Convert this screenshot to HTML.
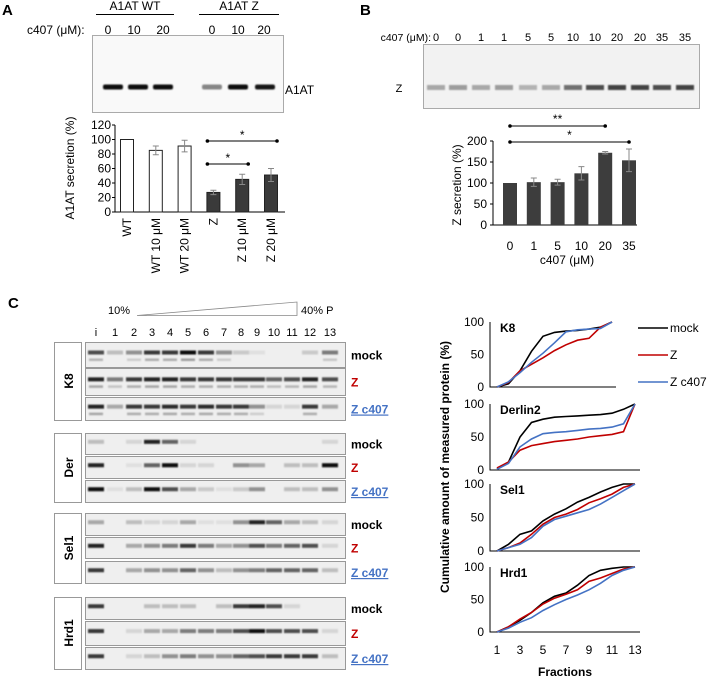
<!DOCTYPE html>
<html><head><meta charset="utf-8"><style>
html,body{margin:0;padding:0;background:#fff;}
svg{display:block;font-family:"Liberation Sans",sans-serif;}
</style></head><body>
<svg id="fig" width="708" height="678" viewBox="0 0 708 678">
<defs><filter id="bl" x="-20%" y="-100%" width="140%" height="300%"><feGaussianBlur stdDeviation="0.9"/></filter></defs>
<g>
<text x="2" y="15" font-size="15" font-weight="bold">A</text>
<text x="135" y="10" font-size="12" text-anchor="middle">A1AT WT</text>
<line x1="96" y1="14.5" x2="174" y2="14.5" stroke="#000"/>
<text x="239" y="10" font-size="12" text-anchor="middle">A1AT Z</text>
<line x1="199" y1="14.5" x2="279" y2="14.5" stroke="#000"/>
<text x="27" y="34" font-size="12">c407 (μM):</text>
<g font-size="12" text-anchor="middle">
<text x="108" y="34">0</text><text x="134" y="34">10</text><text x="163" y="34">20</text>
<text x="212" y="34">0</text><text x="238" y="34">10</text><text x="264" y="34">20</text></g>
<rect x="92.5" y="35.5" width="191" height="77" fill="#f9f9f9" stroke="#aaa"/>
<g id="agel" filter="url(#bl)"></g>
<text x="285" y="94" font-size="12">A1AT</text>
<g id="achart"></g>
</g>
<g>
<text x="360" y="15" font-size="15" font-weight="bold">B</text>
<rect x="423.5" y="44.5" width="276" height="64" fill="#f2f2f2" stroke="#aaa"/>
<text x="431" y="41" font-size="10.5" text-anchor="end">c407 (μM):</text>
<g id="blanes" font-size="11" text-anchor="middle"></g>
<g id="bgel" filter="url(#bl)"></g>
<text x="399" y="92" font-size="11" text-anchor="middle">Z</text>
<g id="bchart"></g>
</g>
<g>
<text x="8" y="308" font-size="15" font-weight="bold">C</text>
<text x="108" y="314" font-size="11">10%</text>
<polygon points="137,315.5 297,315.5 297,302" fill="#fff" stroke="#888" stroke-width="0.8"/>
<text x="301" y="314" font-size="11">40% P</text>
<g id="clanes" font-size="11" text-anchor="middle"></g>
<g id="blots"></g>
<g id="curves"></g>
</g>
</svg>
<script>
var NS="http://www.w3.org/2000/svg";
function mk(p,t,a,txt){var e=document.createElementNS(NS,t);for(var k in a)e.setAttribute(k,a[k]);if(txt!==undefined)e.textContent=txt;p.appendChild(e);return e;}
// ---- Panel A data
var aCats=["WT","WT 10 μM","WT 20 μM","Z","Z 10 μM","Z 20 μM"];
var aVals=[100,85,91,27,45,51];
var aErr=[0,6,8,3,7,9];
var aTicks=[0,20,40,60,80,100,120];
var aGelInt=[1,1,1,0.45,1,0.95];
// ---- Panel B data
var bCats=["0","1","5","10","20","35"];
var bVals=[100,102,102,123,172,154];
var bErr=[0,10,7,16,3,27];
var bTicks=[0,50,100,150,200];
var bLaneLabels=["0","0","1","1","5","5","10","10","20","20","35","35"];
var bGelInt=[0.3,0.35,0.3,0.35,0.25,0.3,0.55,0.7,0.75,0.75,0.7,0.75];
// ---- Panel C data
var fracLabels=["i","1","2","3","4","5","6","7","8","9","10","11","12","13"];
var fractions=[1,2,3,4,5,6,7,8,9,10,11,12,13];
var fracTicks=[1,3,5,7,9,11,13];
var cTicks=[0,50,100];
var k8Mock=[0,5,25,55,78,84,86,87,89,92,100];
var k8Z=[0,7,25,35,45,56,65,72,75,92,100];
var k8Zc=[0,8,22,38,52,68,85,88,89,90,100];
var derMock=[2,12,50,72,77,80,81,82,83,84,86,92,100];
var derZ=[3,12,30,37,40,43,45,47,50,52,54,58,100];
var derZc=[1,10,35,47,55,57,58,60,62,63,65,70,100];
var selMock=[0,10,25,30,45,55,63,73,80,88,95,100,100];
var selZ=[0,5,12,25,40,50,55,62,72,78,85,95,100];
var selZc=[0,5,10,20,37,47,52,57,62,70,80,90,100];
var hrdMock=[0,8,18,30,45,55,60,72,87,95,98,100,100];
var hrdZ=[0,8,20,30,43,52,58,65,78,83,90,97,100];
var hrdZc=[0,6,15,22,33,42,50,57,65,75,87,95,100];
var k8MockBand=[.7,.2,.4,.8,.8,1,.8,.4,.15,.05,0,0,.15,.5];
var k8ZBand=[.9,.5,.8,.9,.9,.8,.8,.8,.8,.8,.6,.7,.9,.7];
var k8ZcBand=[.9,.3,.8,.8,.85,.8,.85,.8,.8,.4,.1,.1,.8,.3];
var derMockBand=[.2,0,.1,.9,.6,.1,0,0,0,0,0,0,0,.1];
var derZBand=[.9,0,.05,.6,1,.1,.1,0,.4,.3,0,.2,.2,1];
var derZcBand=[1,.05,.2,1,.7,.3,.15,.05,.15,.4,0,.2,.2,.4];
var selMockBand=[.3,0,.2,.1,.1,.3,.05,.05,.4,.9,.6,.3,.2,.1];
var selZBand=[.9,0,.3,.4,.5,.8,.5,.3,.4,.7,.5,.6,.7,.1];
var selZcBand=[.8,0,.3,.4,.4,.6,.4,.2,.4,.5,.6,.6,.6,.2];
var hrdMockBand=[.8,0,0,.2,.2,.2,0,.2,.8,.9,.7,.1,0,0];
var hrdZBand=[.8,0,.1,.3,.3,.5,.5,.5,.7,1,.7,.7,.7,.1];
var hrdZcBand=[.8,0,.1,.2,.4,.5,.4,.4,.6,.7,.8,.8,.8,.2];

function shade(v){var c=Math.round(235-225*v);return "rgb("+c+","+c+","+c+")";}

// ---- Panel A gel
var ag=document.getElementById("agel");var aLaneX=[113,138,163,212,238,265];
aGelInt.forEach(function(v,i){var r=mk(ag,"rect",{x:aLaneX[i]-10,y:84.5,width:20,height:5,rx:2,fill:shade(v)});

});
// ---- Panel A chart
(function(){var g=document.getElementById("achart");
var x0=115,x1=285,y0=212,yMax=120,h=87;
function Y(v){return y0-v/yMax*h;}function X(i){return 127+i*28.8;}
aTicks.forEach(function(t){var e=mk(g,"text",{x:111,y:Y(t)+4,"font-size":12,"text-anchor":"end"},t);


mk(g,"line",{x1:x0-3,x2:x0,y1:Y(t),y2:Y(t),stroke:"#000"});});
var ax=mk(g,"path",{d:"M"+x0+","+Y(120)+"V"+y0+"H"+x1,stroke:"#000",fill:"none"});


aVals.forEach(function(v,i){var b=mk(g,"rect",{x:X(i)-6.5,y:Y(v),width:13,height:y0-Y(v),fill:i<3?"#fff":"#3a3a3a",stroke:"#222"});


if(aErr[i]){mk(g,"path",{d:"M"+(X(i)-3)+","+Y(v+aErr[i])+"h6M"+X(i)+","+Y(v+aErr[i])+"V"+Y(v-aErr[i])+"M"+(X(i)-3)+","+Y(v-aErr[i])+"h6",stroke:"#888",fill:"none"});}
var l=mk(g,"text",{transform:"translate("+(X(i)+4)+",218) rotate(-90)","font-size":12,"text-anchor":"end"},aCats[i]);

});
var t=mk(g,"text",{transform:"translate(74,168) rotate(-90)","font-size":12,"text-anchor":"middle"},"A1AT secretion (%)");


[[3,5,141,"*"],[3,4,164,"*"]].forEach(function(s){mk(g,"line",{x1:X(s[0])-6,x2:X(s[1])+6,y1:s[2],y2:s[2],stroke:"#000"});
mk(g,"circle",{cx:X(s[0])-6,cy:s[2],r:1.8});mk(g,"circle",{cx:X(s[1])+6,cy:s[2],r:1.8});
var st=mk(g,"text",{x:(X(s[0])+X(s[1]))/2,y:s[2]-2,"font-size":12,"text-anchor":"middle"},s[3]);

});})();
// ---- Panel B gel
(function(){var g=document.getElementById("blanes"),gg=document.getElementById("bgel");
var lx=[436,458,481,504,528,551,573,595,617,640,662,685];
bLaneLabels.forEach(function(s,i){var e=mk(g,"text",{x:lx[i],y:41},s);


mk(gg,"rect",{x:lx[i]-9,y:85,width:18,height:5,fill:shade(bGelInt[i])});});})();
// ---- Panel B chart
(function(){var g=document.getElementById("bchart");
var x0=493,x1=637,y0=225,yMax=200,h=84;
function Y(v){return y0-v/yMax*h;}function X(i){return 510+i*23.8;}
bTicks.forEach(function(t){var e=mk(g,"text",{x:487,y:Y(t)+4,"font-size":12,"text-anchor":"end"},t);


mk(g,"line",{x1:x0-3,x2:x0,y1:Y(t),y2:Y(t),stroke:"#000"});});
mk(g,"path",{d:"M"+x0+","+Y(200)+"V"+y0+"H"+x1,stroke:"#000",fill:"none"});
bVals.forEach(function(v,i){var b=mk(g,"rect",{x:X(i)-7,y:Y(v),width:14,height:y0-Y(v),fill:"#3d3d3d"});


if(bErr[i]){mk(g,"path",{d:"M"+(X(i)-3)+","+Y(v+bErr[i])+"h6M"+X(i)+","+Y(v+bErr[i])+"V"+Y(v-bErr[i])+"M"+(X(i)-3)+","+Y(v-bErr[i])+"h6",stroke:"#888",fill:"none"});}
var l=mk(g,"text",{x:X(i),y:250,"font-size":12,"text-anchor":"middle"},bCats[i]);

});
var t=mk(g,"text",{transform:"translate(461,185) rotate(-90)","font-size":12,"text-anchor":"middle"},"Z secretion (%)");


var t2=mk(g,"text",{x:567,y:264,"font-size":12,"text-anchor":"middle"},"c407 (μM)");


[[0,4,126,"**"],[0,5,142,"*"]].forEach(function(s){mk(g,"line",{x1:X(s[0]),x2:X(s[1]),y1:s[2],y2:s[2],stroke:"#000"});
mk(g,"circle",{cx:X(s[0]),cy:s[2],r:1.8});mk(g,"circle",{cx:X(s[1]),cy:s[2],r:1.8});
var st=mk(g,"text",{x:(X(s[0])+X(s[1]))/2,y:s[2]-3,"font-size":12,"text-anchor":"middle"},s[3]);

});})();
// ---- Panel C blots
(function(){var lg=document.getElementById("clanes"),g=document.getElementById("blots");
var lx=[96,115,134,152,170,188,206,224,241,257,274,292,310,330];
fracLabels.forEach(function(s,i){var e=mk(lg,"text",{x:lx[i],y:336},s);

});
var groups=[["K8",342,420,[[342,367,k8MockBand],[368,395,k8ZBand],[397,420,k8ZcBand]]],
["Der",433,502,[[433,454,derMockBand],[456,478,derZBand],[480,502,derZcBand]]],
["Sel1",513,583,[[513,535,selMockBand],[537,558,selZBand],[561,583,selZcBand]]],
["Hrd1",597,669,[[597,619,hrdMockBand],[621,645,hrdZBand],[647,669,hrdZcBand]]]];
var names=["mock","Z","Z c407"],cols=["#000","#c00000","#4472c4"];
groups.forEach(function(gr){var b=mk(g,"rect",{x:54.5,y:gr[1]+.5,width:27,height:gr[2]-gr[1],fill:"#fff",stroke:"#999"});


var t=mk(g,"text",{transform:"translate(73,"+((gr[1]+gr[2])/2)+") rotate(-90)","font-size":12,"font-weight":"bold","text-anchor":"middle"},gr[0]);


gr[3].forEach(function(s,k){var r=mk(g,"rect",{x:85.5,y:s[0]+.5,width:260,height:s[1]-s[0],fill:"#efefef",stroke:"#999"});


var bb=mk(g,"g",{filter:"url(#bl)"});
var by=s[0]+(s[1]-s[0])*0.42;
s[2].forEach(function(v,i){if(v>0.02)mk(bb,"rect",{x:lx[i]-8,y:by-2,width:16,height:4,fill:shade(v)});
if(v>0.3&&gr[0]=="K8")mk(bb,"rect",{x:lx[i]-7,y:by+6,width:14,height:2.5,fill:shade(v*0.35)});});
var lt=mk(g,"text",{x:351,y:(s[0]+s[1])/2+5,"font-size":12,"font-weight":"bold",fill:cols[k],"text-decoration":k==2?"underline":"none"},names[k]);

});});})();
// ---- Panel C curves
(function(){var g=document.getElementById("curves");
function X(f){return 497+(f-1)*11.5;}
var charts=[["K8",322,387,616,[k8Mock,k8Z,k8Zc]],["Derlin2",404,470,640,[derMock,derZ,derZc]],["Sel1",484,551,640,[selMock,selZ,selZc]],["Hrd1",567,632,640,[hrdMock,hrdZ,hrdZc]]];
var cols=["#000","#c00000","#4472c4"];
charts.forEach(function(c){function Y(v){return c[2]-v/100*(c[2]-c[1]);}
var ax=mk(g,"path",{d:"M490,"+c[1]+"V"+c[2]+"H"+c[3],stroke:"#000",fill:"none"});


cTicks.forEach(function(t){var e=mk(g,"text",{x:484,y:Y(t)+4,"font-size":12,"text-anchor":"end"},t);

});
var tt=mk(g,"text",{x:500,y:c[1]+10,"font-size":12,"font-weight":"bold"},c[0]);


c[4].forEach(function(s,k){var d=s.map(function(v,i){return (i?"L":"M")+X(fractions[i]).toFixed(1)+","+Y(v).toFixed(1);}).join("");
var p=mk(g,"path",{d:d,stroke:cols[k],"stroke-width":1.6,fill:"none"});

});});
fracTicks.forEach(function(f){var e=mk(g,"text",{x:X(f),y:654,"font-size":12,"text-anchor":"middle"},f);

});
var xt=mk(g,"text",{x:565,y:676,"font-size":12,"font-weight":"bold","text-anchor":"middle"},"Fractions");


var yt=mk(g,"text",{transform:"translate(449,467) rotate(-90)","font-size":12,"font-weight":"bold","text-anchor":"middle"},"Cumulative amount of measured protein (%)");


["mock","Z","Z c407"].forEach(function(n,k){var y=328+k*27;
mk(g,"line",{x1:638,x2:668,y1:y,y2:y,stroke:cols[k],"stroke-width":1.6});
var lt=mk(g,"text",{x:670,y:y+4,"font-size":12},n);

});})();
</script>
</body></html>
